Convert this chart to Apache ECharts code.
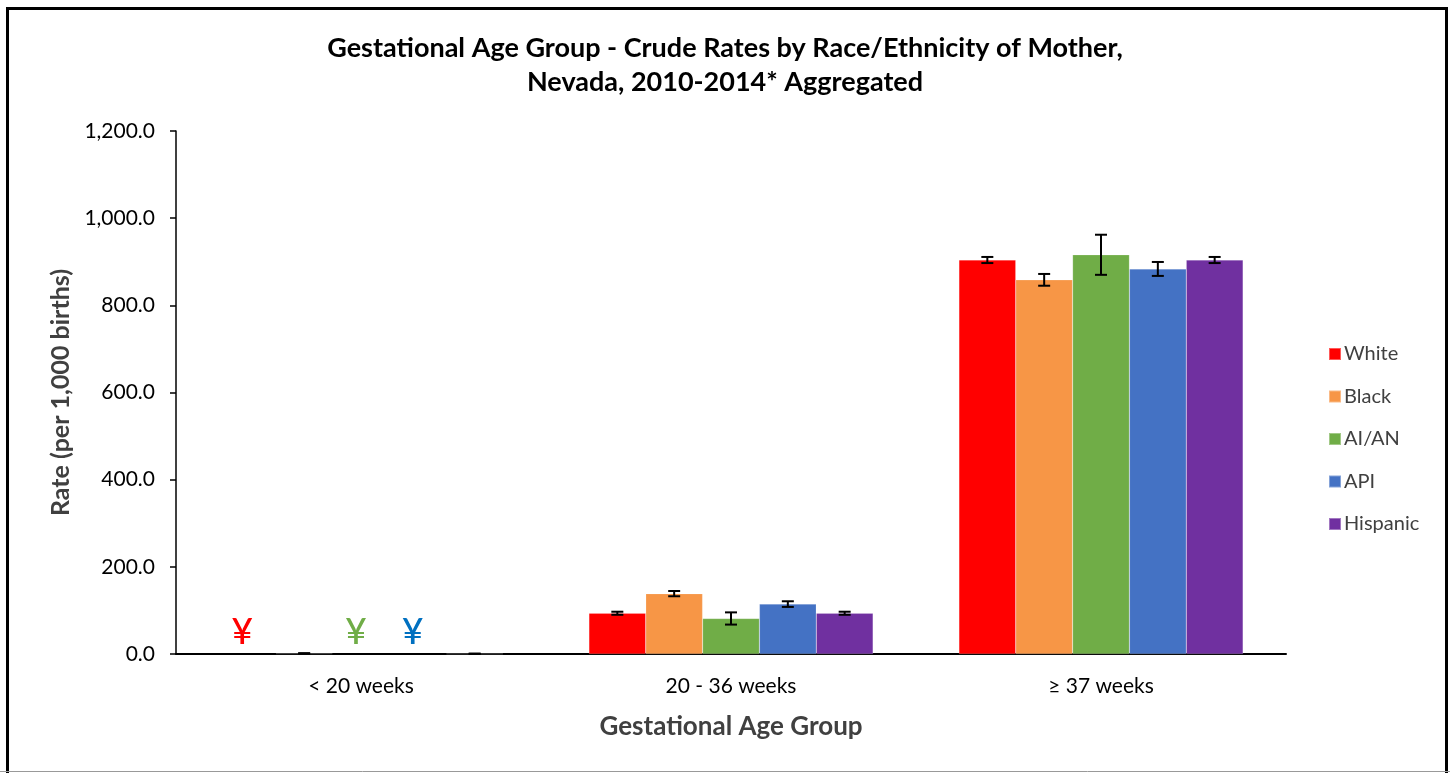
<!DOCTYPE html>
<html>
<head>
<meta charset="utf-8">
<script src="https://cdn.jsdelivr.net/npm/echarts@6/dist/echarts.min.js"></script>
<style>
  html, body { margin: 0; padding: 0; background: #fff; }
  #chart { width: 1450px; height: 773px; }
</style>
</head>
<body>
<div id="chart"></div>
<script>
// Gestational age groups (x categories)
const categories = ['< 20 weeks', '20 - 36 weeks', '\u2265 37 weeks'];

// Race/ethnicity of mother
const races = ['White', 'Black', 'AI/AN', 'API', 'Hispanic'];
const raceColors = ['#FF0000', '#F79646', '#70AD47', '#4472C4', '#7030A0'];

// Crude rates per 1,000 births (null = suppressed)
const whiteRates    = [null, 93.5, 904.0];
const blackRates    = [1.4, 138.5, 858.5];
const aianRates     = [null, 81.5, 916.0];
const apiRates      = [null, 114.5, 883.5];
const hispanicRates = [0.6, 93.5, 904.0];

// Half-widths of the 95% confidence intervals
const whiteErr    = [null, 3.5, 7.0];
const blackErr    = [0.5, 6.0, 13.5];
const aianErr     = [null, 14.0, 46.0];
const apiErr      = [null, 6.5, 16.0];
const hispanicErr = [0.3, 3.5, 7.0];

// Suppressed estimates, flagged with a yen sign in the race's colour
const suppressedCategory = 0;
const suppressedRaces = [0, 2, 3];
const suppressedColors = ['#FF0000', '#70AD47', '#0070C0'];
const suppressedMark = '\u00A5';

// Y axis ticks
const yMin = 0, yMax = 1200, yStep = 200;

const rates = [whiteRates, blackRates, aianRates, apiRates, hispanicRates];
const errs = [whiteErr, blackErr, aianErr, apiErr, hispanicErr];

const FONT = 'Lato, "Open Sans", sans-serif';
const GAP = 0.232; // category gap ratio

function barOffset(api, i) {
  const band = api.size([1, 0])[0];
  const groupW = band * (1 - GAP);
  const w = groupW / races.length;
  return { off: -groupW / 2 + (i + 0.5) * w, w: w };
}

const series = [];
races.forEach(function (name, i) {
  series.push({
    name: name,
    type: 'bar',
    data: rates[i],
    barGap: '0%',
    barCategoryGap: (GAP * 100) + '%',
    itemStyle: { color: raceColors[i], borderColor: 'rgba(255,255,255,0.35)', borderWidth: 0.5 },
    emphasis: { disabled: true },
    z: 2
  });
});

// Error bars
races.forEach(function (name, i) {
  const data = [];
  rates[i].forEach(function (v, c) {
    if (v != null && errs[i][c] != null) data.push([c, v - errs[i][c], v + errs[i][c]]);
  });
  series.push({
    type: 'custom',
    name: name + ' CI',
    data: data,
    z: 5,
    silent: true,
    renderItem: function (params, api) {
      const lo = api.coord([api.value(0), api.value(1)]);
      const hi = api.coord([api.value(0), api.value(2)]);
      const o = barOffset(api, i);
      const x = lo[0] + o.off;
      const cap = 6;
      const st = { stroke: '#000', lineWidth: 2 };
      return {
        type: 'group',
        children: [
          { type: 'line', shape: { x1: x, y1: lo[1], x2: x, y2: hi[1] }, style: st },
          { type: 'line', shape: { x1: x - cap, y1: lo[1], x2: x + cap, y2: lo[1] }, style: st },
          { type: 'line', shape: { x1: x - cap, y1: hi[1], x2: x + cap, y2: hi[1] }, style: st }
        ]
      };
    }
  });
});

// Suppression marks
series.push({
  type: 'custom',
  name: 'suppressed',
  data: suppressedRaces.map(function (r, k) { return [suppressedCategory, 0, r, k]; }),
  z: 6,
  silent: true,
  renderItem: function (params, api) {
    const p = api.coord([api.value(0), api.value(1)]);
    const r = api.value(2);
    const k = api.value(3);
    const o = barOffset(api, r);
    return {
      type: 'text',
      x: p[0] + o.off - 5,
      y: p[1] - 22,
      style: {
        text: suppressedMark,
        fill: suppressedColors[k],
        font: '500 37px ' + FONT,
        align: 'center',
        verticalAlign: 'middle'
      }
    };
  }
});

const chart = echarts.init(document.getElementById('chart'), null, { renderer: 'canvas' });
chart.setOption({
  animation: false,
  backgroundColor: '#fff',
  title: {
    text: 'Gestational Age Group - Crude Rates by Race/Ethnicity of Mother,\nNevada, 2010-2014* Aggregated',
    left: 'center',
    top: 26,
    textStyle: { fontFamily: FONT, fontWeight: 'bold', fontSize: 27, color: '#000', lineHeight: 34 }
  },
  legend: {
    data: races,
    orient: 'vertical',
    left: 1323,
    top: 339,
    itemWidth: 12,
    itemHeight: 12,
    itemGap: 22.5,
    icon: 'rect',
    textStyle: { fontFamily: FONT, fontSize: 20, color: '#404040', padding: [0, 0, 0, -2] }
  },
  grid: { left: 176, right: 164, top: 131, bottom: 119, containLabel: false },
  xAxis: {
    type: 'category',
    data: categories,
    name: 'Gestational Age Group',
    nameLocation: 'middle',
    nameGap: 60,
    nameTextStyle: { fontFamily: FONT, fontWeight: 'bold', fontSize: 26, color: '#404040' },
    axisLine: { lineStyle: { color: '#000', width: 2 } },
    axisTick: { alignWithLabel: true, length: 6, lineStyle: { color: '#000', width: 1.5 } },
    axisLabel: { fontFamily: FONT, fontSize: 21, color: '#000', margin: 22 }
  },
  yAxis: {
    type: 'value',
    min: yMin,
    max: yMax,
    interval: yStep,
    name: 'Rate (per 1,000 births)',
    nameLocation: 'middle',
    nameGap: 102,
    nameTextStyle: { fontFamily: FONT, fontWeight: 'bold', fontSize: 25, color: '#404040' },
    axisLine: { show: true, lineStyle: { color: '#000', width: 1.5 } },
    axisTick: { show: true, length: 6, lineStyle: { color: '#000', width: 1.5 } },
    splitLine: { show: false },
    axisLabel: {
      fontFamily: FONT, fontSize: 21, color: '#000', margin: 21,
      formatter: function (v) { return v.toLocaleString('en-US', { minimumFractionDigits: 1, maximumFractionDigits: 1 }); }
    }
  },
  graphic: [
    {
      type: 'rect',
      shape: { x: 7.5, y: 8.5, width: 1439, height: 770 },
      style: { fill: 'none', stroke: '#000', lineWidth: 3 },
      silent: true,
      z: 100
    },
    {
      type: 'line',
      shape: { x1: 0, y1: 771.5, x2: 1450, y2: 771.5 },
      style: { stroke: '#999', lineWidth: 1 },
      silent: true,
      z: 101
    }
  ],
  series: series
});
</script>
</body>
</html>
